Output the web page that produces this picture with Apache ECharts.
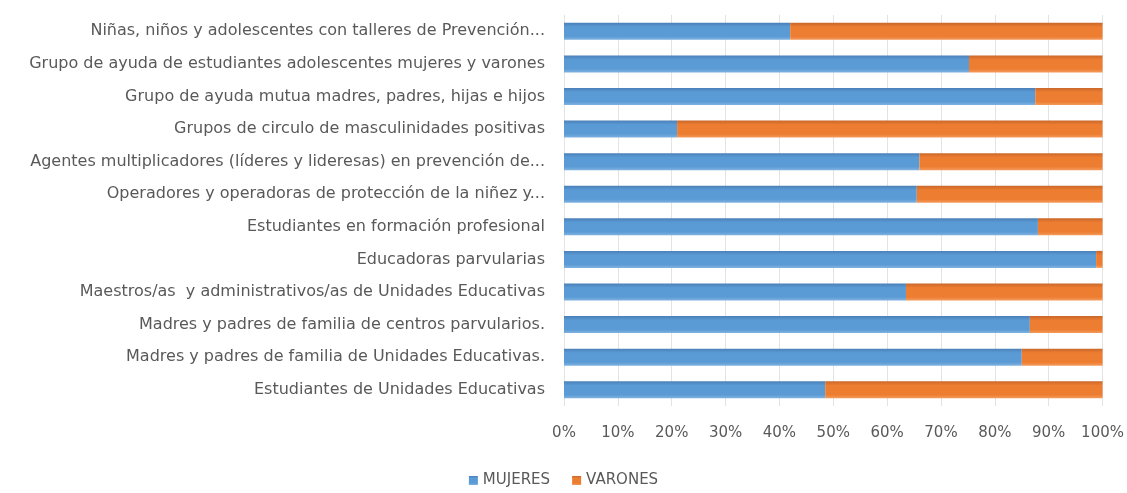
<!DOCTYPE html>
<html>
<head>
<meta charset="utf-8">
<script src="https://cdn.jsdelivr.net/npm/echarts@6/dist/echarts.min.js"></script>
<style>
  html, body { margin: 0; padding: 0; background: #fff; }
  #main { width: 1127px; height: 493px; }
</style>
</head>
<body>
<div id="main"></div>
<script>
// categorías, de abajo hacia arriba (orden del eje)
const categories = [
  'Estudiantes de Unidades Educativas',
  'Madres y padres de familia de Unidades Educativas.',
  'Madres y padres de familia de centros parvularios.',
  'Maestros/as  y administrativos/as de Unidades Educativas',
  'Educadoras parvularias',
  'Estudiantes en formación profesional',
  'Operadores y operadoras de protección de la niñez y...',
  'Agentes multiplicadores (líderes y lideresas) en prevención de...',
  'Grupos de circulo de masculinidades positivas',
  'Grupo de ayuda mutua madres, padres, hijas e hijos',
  'Grupo de ayuda de estudiantes adolescentes mujeres y varones',
  'Niñas, niños y adolescentes con talleres de Prevención...'
]
const mujeres = [48.5, 85, 86.5, 63.5, 98.8, 88, 65.5, 66, 21, 87.5, 75.2, 42]
const varones = [51.5, 15, 13.5, 36.5, 1.2, 12, 34.5, 34, 79, 12.5, 24.8, 58]
const xTicks = ['0%', '10%', '20%', '30%', '40%', '50%', '60%', '70%', '80%', '90%', '100%']

const grad = (top, mid, bot) => new echarts.graphic.LinearGradient(0, 0, 0, 1, [
  { offset: 0, color: top },
  { offset: 0.25, color: mid },
  { offset: 0.8, color: mid },
  { offset: 1, color: bot }
])

const labelFont = '"DejaVu Sans", Verdana, sans-serif'

const chart = echarts.init(document.getElementById('main'))
chart.setOption({
  animation: false,
  textStyle: { fontFamily: labelFont },
  grid: { left: 564, right: 22, top: 15, bottom: 87 },
  legend: {
    bottom: 0,
    left: 'center',
    itemWidth: 9,
    itemHeight: 9,
    itemGap: 22,
    icon: 'rect',
    textStyle: { color: '#595959', fontSize: 15, fontFamily: labelFont },
    data: ['MUJERES', 'VARONES']
  },
  xAxis: {
    type: 'value',
    min: 0,
    max: 100,
    interval: 10,
    axisLine: { show: false },
    axisTick: { show: false },
    splitLine: { show: true, lineStyle: { color: '#e3e3e3', width: 1 } },
    axisLabel: {
      color: '#595959',
      fontSize: 15,
      margin: 20,
      fontFamily: labelFont,
      formatter: v => xTicks[Math.round(v / 10)]
    }
  },
  yAxis: {
    type: 'category',
    data: categories,
    axisLine: { show: false },
    axisTick: { show: false },
    axisLabel: { color: '#595959', fontSize: 16, margin: 19, fontFamily: labelFont }
  },
  series: [
    {
      name: 'MUJERES',
      type: 'bar',
      stack: 'total',
      barWidth: 17,
      data: mujeres,
      itemStyle: { color: grad('#4a7fb8', '#5b9bd5', '#7fb2e0') }
    },
    {
      name: 'VARONES',
      type: 'bar',
      stack: 'total',
      barWidth: 17,
      data: varones,
      itemStyle: { color: grad('#c9672a', '#ed7d31', '#f39a5c') }
    }
  ]
})
</script>
</body>
</html>
